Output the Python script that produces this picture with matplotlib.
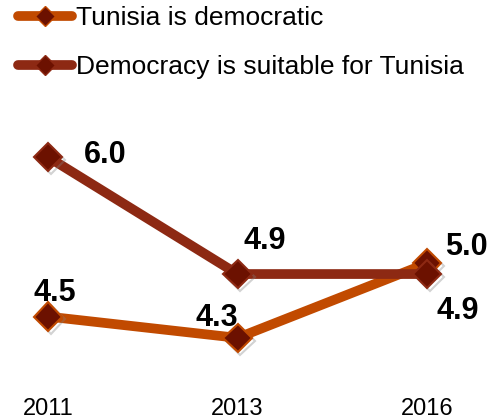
import matplotlib.pyplot as plt
import matplotlib.patheffects as pe
from matplotlib.lines import Line2D

plt.rcParams['font.family'] = ['Liberation Sans', 'DejaVu Sans']

# Data
years = ["2011", "2013", "2016"]
democratic = [4.5, 4.3, 5.0]
suitable = [6.0, 4.9, 4.9]
series_names = ["Tunisia is democratic", "Democracy is suitable for Tunisia"]

# label offsets in pixels (dx, dy) relative to each point
democratic_offsets = [(7, 24), (-21, 20), (39, 16)]
suitable_offsets = [(57, 2), (27, 33), (31, -37)]

ORANGE = "#C14A00"
DARKRED = "#8D2913"
MARK_FILL = "#6C1100"

fig = plt.figure(figsize=(4.89, 4.19), dpi=100)
ax = fig.add_axes([0, 0.07, 1, 0.93])

x = list(range(len(years)))
shadow = [pe.SimpleLineShadow(offset=(2, -2), alpha=0.35, shadow_color="gray"), pe.Normal()]

for vals, color, offs in [(democratic, ORANGE, democratic_offsets),
                          (suitable, DARKRED, suitable_offsets)]:
    ax.plot(x, vals, color=color, lw=7, solid_capstyle="butt", zorder=2)
    ax.plot(x, vals, ls="none", marker="D", markersize=14.5, markerfacecolor=MARK_FILL,
            markeredgecolor=color, markeredgewidth=1.5, zorder=3, path_effects=shadow)
    for xi, v, (dx, dy) in zip(x, vals, offs):
        ax.annotate(f"{v:.1f}", (xi, v), xytext=(dx, dy), textcoords="offset pixels",
                    ha="center", va="center", fontsize=22, fontweight="bold", color="black")

ax.set_xlim(-0.2533, 2.327)
ax.set_ylim(3.813, 7.476)
ax.set_xticks(x)
ax.set_xticklabels(years, fontsize=17)
ax.tick_params(axis="x", length=0, pad=6)
ax.set_yticks([])
for s in ax.spines.values():
    s.set_visible(False)

handles = [Line2D([], [], color=c, lw=7, solid_capstyle="round", marker="D", markersize=10,
                  markerfacecolor=MARK_FILL, markeredgecolor=c)
           for c in (ORANGE, DARKRED)]
ax.legend(handles, series_names, loc="upper left", bbox_to_anchor=(18 / 489, 1 - 6 / 419),
          bbox_transform=fig.transFigure, frameon=False, fontsize=19, handlelength=2.05,
          handletextpad=0.15, labelspacing=0.95, borderpad=0, borderaxespad=0)

fig.savefig("out.png", dpi=100)
